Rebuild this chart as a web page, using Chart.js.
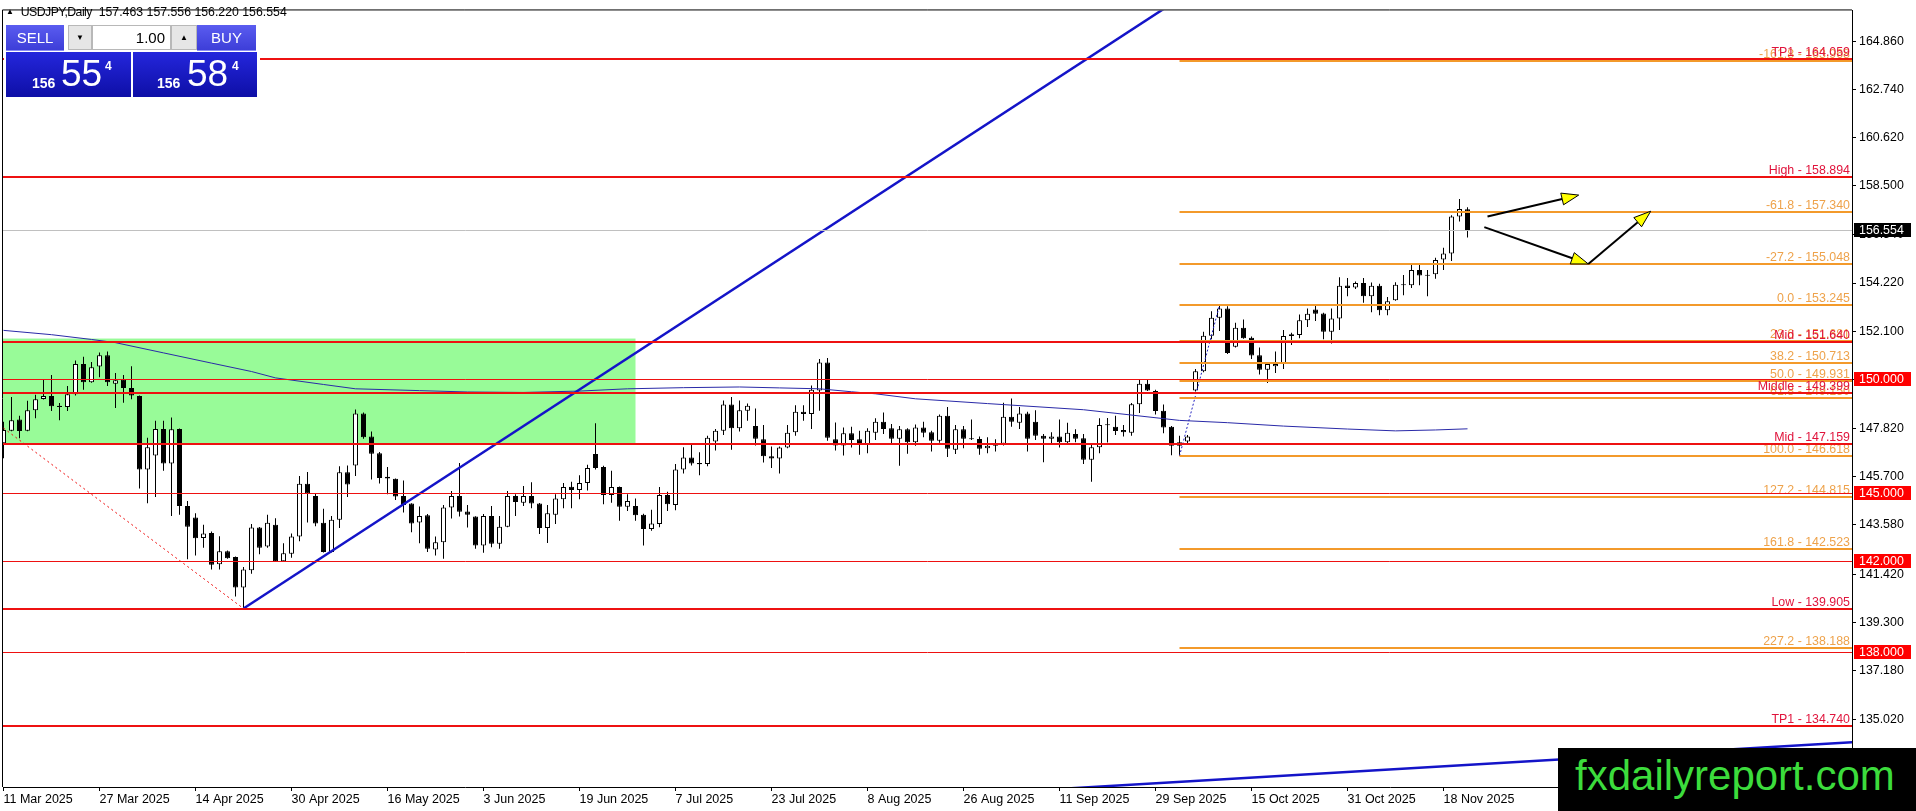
<!DOCTYPE html>
<html>
<head>
<meta charset="utf-8">
<title>USDJPY Daily</title>
<script src="https://cdn.jsdelivr.net/npm/chart.js@4.4.1/dist/chart.umd.min.js"></script>
<style>
  html, body { margin: 0; padding: 0; background: #fff; }
  #wrap { position: relative; width: 1916px; height: 811px; overflow: hidden; font-family: "Liberation Sans", Arial, sans-serif; }
  #chart { position: absolute; left: 0; top: 0; }
  .abs { position: absolute; }
  #hdr { left: 6px; top: 3px; font-size: 12.3px; color: #000; white-space: pre; line-height: 18px; }
  #hdr .tri { font-size: 8px; position: relative; top: -2px; }
  #hdr .sym { letter-spacing: -0.55px; }
  #panelBg { left: 4px; top: 22px; width: 256px; height: 78px; background: #fff; }
  .btn { top: 25px; height: 26px; color: #fff; font-size: 15px; text-align: center; line-height: 26px;
         background: linear-gradient(#5a5cf0, #3d3ed8); border-bottom: 1px solid #8a8cf5; box-sizing: border-box; }
  .spin { top: 25px; height: 25px; background: #e6e6e6; border: 1px solid #b8b8b8; box-sizing: border-box;
          font-size: 8px; text-align: center; line-height: 23px; color: #000; }
  .lot { top: 25px; height: 25px; background: #fff; border: 1px solid #b8b8b8; box-sizing: border-box;
         font-size: 15px; text-align: right; padding-right: 5px; line-height: 23px; color: #000; }
  .quote { top: 52px; height: 45px; background: linear-gradient(#2426dc, #0e0fa6); color: #fff; }
  .quote span { position: absolute; white-space: nowrap; }
  .fig { font-size: 14px; font-weight: bold; top: 24px; line-height: 14px; }
  .pip { font-size: 37px; top: 3px; line-height: 37px; }
  .sup { font-size: 12px; font-weight: bold; top: 8px; line-height: 12px; }
  #wm { left: 1558px; top: 748px; width: 358px; height: 63px; background: #000; color: #3cdc3c;
        font-size: 42px; line-height: 55px; padding-left: 17px; box-sizing: border-box; white-space: nowrap; }
</style>
</head>
<body>
<div id="wrap">
  <canvas id="chart" width="1916" height="811"></canvas>
  <div id="hdr" class="abs"><span class="tri">&#9650;</span>  <span class="sym">USDJPY,Daily</span>  157.463 157.556 156.220 156.554</div>
  <div id="panelBg" class="abs"></div>
  <div class="abs btn" style="left:6px;width:58px;">SELL</div>
  <div class="abs spin" style="left:68px;width:24px;">&#9660;</div>
  <div class="abs lot" style="left:92px;width:79px;">1.00</div>
  <div class="abs spin" style="left:171px;width:26px;">&#9650;</div>
  <div class="abs btn" style="left:197px;width:59px;">BUY</div>
  <div class="abs quote" style="left:6px;width:125px;">
    <span class="fig" style="left:26px;">156</span><span class="pip" style="left:55px;">55</span><span class="sup" style="left:99px;">4</span>
  </div>
  <div class="abs quote" style="left:133px;width:124px;">
    <span class="fig" style="left:24px;">156</span><span class="pip" style="left:54px;">58</span><span class="sup" style="left:99px;">4</span>
  </div>
  <div id="wm" class="abs">fxdailyreport.com</div>
</div>
<script>
// USDJPY daily candles, 11 Mar 2025 .. 21 Nov 2025 (bar index 0..183)
const opens = [
  147.18,147.73,148.22,147.73,148.63,149.12,149.25,148.83,148.77,149.33,
  150.66,149.86,150.55,151.05,149.79,149.97,149.60,149.25,146.02,146.64,
  147.80,146.28,147.80,144.42,143.91,143.01,143.23,141.85,142.43,142.17,
  140.83,141.59,143.47,142.63,143.59,141.99,142.31,143.07,145.39,144.85,
  143.68,142.39,143.81,145.90,146.20,148.48,147.47,146.74,145.70,145.61,
  144.85,144.52,143.69,144.01,142.50,142.82,144.35,144.85,144.17,143.95,
  142.68,143.98,142.75,143.50,144.85,144.56,144.85,144.53,143.45,144.03,
  144.71,145.26,145.12,145.43,146.70,146.13,144.90,145.25,144.38,144.42,
  144.03,143.40,143.62,144.90,144.46,146.02,146.55,146.31,146.26,147.25,
  147.73,148.88,147.83,148.60,147.93,147.35,146.60,146.50,146.99,147.66,
  148.56,148.46,149.50,150.73,147.35,147.08,147.61,147.35,147.13,147.64,
  148.12,147.83,147.37,147.79,147.22,147.87,147.66,147.29,148.38,146.89,
  147.79,147.38,147.36,146.96,147.06,147.15,148.34,148.08,148.48,148.12,
  147.51,147.37,147.47,147.22,147.58,147.40,146.45,147.00,147.97,147.90,
  147.76,147.64,148.89,149.79,149.47,148.60,147.90,147.22,147.25,149.50,
  150.34,151.90,152.69,153.10,151.42,152.26,151.82,151.05,150.41,150.56,
  150.66,151.89,151.94,152.58,153.06,152.88,152.08,152.66,154.11,154.03,
  154.22,153.64,154.10,153.03,153.46,154.12,154.12,154.80,154.58,154.61,
  155.26,155.52,157.15,157.463
];
const highs = [
  148.12,149.21,148.38,149.04,149.31,149.96,150.18,148.95,149.69,150.81,
  150.98,150.75,151.17,151.21,150.26,150.18,150.56,149.27,147.42,148.17,
  148.17,148.31,147.82,144.64,144.10,143.59,143.29,143.08,142.46,142.19,
  141.73,143.62,143.49,144.03,143.88,142.78,143.21,145.73,145.91,144.96,
  144.30,143.98,146.16,146.20,148.66,148.53,147.69,146.79,146.13,145.63,
  145.54,144.54,144.39,144.06,143.07,144.46,145.07,146.31,144.46,143.97,
  144.06,144.42,143.98,145.07,144.93,145.29,145.46,144.55,144.46,144.93,
  145.43,145.48,145.77,146.23,148.05,146.19,145.97,145.27,144.93,144.75,
  144.08,144.25,145.25,145.04,146.26,147.00,147.13,146.78,147.50,147.80,
  149.06,149.21,149.06,148.92,148.70,147.98,147.03,147.03,147.98,148.85,
  148.85,149.72,150.88,150.92,148.09,147.87,147.90,147.73,147.83,148.27,
  148.53,148.02,147.93,147.83,148.00,148.12,147.73,148.44,148.77,147.98,
  147.93,148.22,147.47,147.44,147.35,148.96,149.14,148.77,148.56,148.63,
  147.58,147.66,148.22,148.08,147.79,147.58,147.18,148.27,148.29,148.38,
  147.98,148.95,149.96,149.96,149.53,148.88,147.93,147.51,147.54,150.44,
  152.08,152.98,153.245,153.20,152.48,152.62,151.87,151.39,150.73,151.21,
  152.16,152.04,152.84,153.10,153.24,152.91,153.10,154.48,154.44,154.29,
  154.44,154.25,154.19,153.61,154.26,154.58,155.02,155.02,154.80,155.33,
  155.77,157.20,157.92,157.556
];
const lows = [
  146.52,147.70,147.40,147.70,148.27,149.10,148.59,148.19,148.59,149.28,
  149.53,149.84,150.08,149.69,148.73,148.96,149.11,145.19,144.54,144.81,
  145.97,143.98,144.03,142.07,142.24,142.58,141.62,141.62,142.10,140.43,
  139.905,141.44,142.29,142.58,141.97,141.97,142.14,142.87,143.69,143.53,
  142.37,142.37,143.45,144.81,145.73,147.37,145.58,145.41,144.93,144.68,
  144.13,143.26,142.78,142.39,142.24,142.10,143.87,143.95,143.47,142.53,
  142.36,142.60,142.53,143.48,143.98,144.42,144.32,143.18,142.79,143.62,
  144.32,144.32,144.71,145.10,146.02,144.49,144.56,143.77,144.20,143.77,
  142.68,143.33,143.48,144.20,144.23,145.84,146.20,145.77,146.16,146.86,
  147.54,146.89,147.69,148.16,147.08,146.33,146.09,145.84,146.95,147.50,
  148.16,147.80,148.60,147.29,146.86,146.64,146.99,146.67,146.74,147.32,
  147.58,147.15,146.19,146.71,147.06,147.44,146.81,147.20,146.57,146.70,
  146.96,147.32,146.67,146.74,146.81,147.08,147.90,147.80,146.81,147.32,
  146.34,147.10,146.99,147.10,147.22,146.26,145.48,146.74,147.21,147.54,
  147.47,147.50,148.51,149.47,148.44,147.61,146.65,146.618,147.10,149.45,
  150.30,151.75,152.11,151.10,151.39,151.77,150.88,150.20,149.82,150.27,
  150.44,151.50,151.79,152.29,152.55,151.75,151.56,152.16,153.64,153.96,
  153.35,152.94,152.81,152.81,153.44,153.68,154.00,154.12,153.64,154.41,
  154.80,155.19,156.93,156.220
];
const closes = [
  147.76,148.19,147.71,148.63,149.11,149.25,148.80,148.77,149.33,150.66,
  149.86,150.52,151.05,149.86,149.95,149.60,149.28,146.02,147.00,147.80,
  146.28,147.79,144.42,143.50,143.00,143.21,141.83,142.43,142.12,140.83,
  141.62,143.47,142.58,143.68,141.99,142.34,143.07,145.39,144.96,143.65,
  142.39,143.81,145.90,145.36,148.48,147.44,146.71,145.65,145.63,144.83,
  144.46,143.65,143.98,142.53,142.82,144.35,144.85,144.16,144.03,142.68,
  143.98,142.75,143.50,144.85,144.59,144.85,144.53,143.45,144.10,144.75,
  145.25,145.12,145.43,146.09,146.09,144.90,145.25,144.38,144.64,144.01,
  143.40,143.65,144.90,144.49,146.02,146.55,146.28,146.25,147.42,147.73,
  148.88,147.83,148.63,148.82,147.37,146.60,146.51,146.99,147.64,148.56,
  148.46,149.53,150.73,147.42,147.08,147.61,147.32,147.13,147.73,148.12,
  147.80,147.37,147.79,147.22,147.87,147.64,147.28,148.38,146.93,147.79,
  147.37,147.35,146.93,147.06,147.15,148.34,148.12,148.48,147.37,147.51,
  147.37,147.47,147.22,147.64,147.37,146.45,147.00,147.98,148.00,147.71,
  147.66,148.89,149.79,149.50,148.59,147.87,147.06,147.06,147.47,150.34,
  151.90,152.69,153.10,151.14,152.26,151.79,151.03,150.41,150.66,150.66,
  151.89,151.97,152.58,152.87,152.87,152.08,152.66,154.10,154.00,154.22,
  153.64,154.10,153.03,153.42,154.15,154.16,154.80,154.55,154.54,155.23,
  155.52,157.15,157.48,156.554
];

// moving average: [bar, price]
const maBars   = [0, 6, 11, 14, 20, 26, 31, 34, 40, 44, 52, 58, 65, 72, 78, 85, 92, 97, 102, 106, 109, 114, 123, 135, 147, 153, 160, 168, 174, 179, 183];
const maValues = [152.14, 151.95, 151.74, 151.60, 151.15, 150.70, 150.33, 150.05, 149.76, 149.57, 149.49, 149.43, 149.41, 149.47, 149.57, 149.62, 149.65, 149.61, 149.57, 149.44, 149.35, 149.13, 148.92, 148.65, 148.18, 148.08, 147.93, 147.80, 147.72, 147.76, 147.81];

// date axis
const dateIdx    = [0, 12, 24, 36, 48, 60, 72, 84, 96, 108, 120, 132, 144, 156, 168, 180];
const dateLabels = ['11 Mar 2025', '27 Mar 2025', '14 Apr 2025', '30 Apr 2025', '16 May 2025', '3 Jun 2025',
  '19 Jun 2025', '7 Jul 2025', '23 Jul 2025', '8 Aug 2025', '26 Aug 2025', '11 Sep 2025',
  '29 Sep 2025', '15 Oct 2025', '31 Oct 2025', '18 Nov 2025'];

// price axis
const priceTicks = [164.86, 162.74, 160.62, 158.5, 156.34, 154.22, 152.1, 149.96, 147.82, 145.7, 143.58, 141.42, 139.3, 137.18, 135.02];
const lastPrice = 156.554;

// horizontal levels
const keyLevels    = [164.059, 158.894, 151.640, 149.399, 147.159, 139.905, 134.740];
const keyNames     = ['TP1', 'High', 'Mid', 'Middle', 'Mid', 'Low', 'TP1'];
const roundLevels  = [150.000, 145.000, 142.000, 138.000];
const fibRatios    = [-161.8, -61.8, -27.2, 0.0, 23.6, 38.2, 50.0, 61.8, 100.0, 127.2, 161.8, 227.2];
const fibPrices    = [163.968, 157.340, 155.048, 153.245, 151.681, 150.713, 149.931, 149.150, 146.618, 144.815, 142.523, 138.188];
const fibFromBar   = 147;

// drawn objects (bar, price)
const zoneBars   = [-5, 79];
const zonePrices = [151.78, 147.16];
const supportLine = [{ x: 30, y: 139.905 }, { x: 150, y: 167.42 }];
const lowerLine   = [{ x: 130, y: 131.93 }, { x: 232, y: 134.05 }];
const dropLine    = [{ x: 0, y: 147.84 }, { x: 30, y: 139.905 }];
const fibLine     = [{ x: 147, y: 146.618 }, { x: 152, y: 153.245 }];
const arrowPath = [
  [185.5, 157.15, 196.9, 158.09],
  [185.1, 156.68, 198.1, 155.06],
  [198.1, 155.06, 205.9, 157.38]
];

const FONT = '"Liberation Sans", Arial, sans-serif';
const RED = '#ee1111';
const ORANGE = '#f39a2b';

const wickData = highs.map((h, i) => ({ x: i, y: [lows[i], h] }));
const bodyData = opens.map((o, i) => ({ x: i, y: [o, closes[i]] }));
const bodyFill = opens.map((o, i) => closes[i] >= o ? '#ffffff' : '#000000');
const maData = maBars.map((b, i) => ({ x: b, y: maValues[i] }));

function drawArrow(ctx, x0, y0, x1, y1) {
  const a = Math.atan2(y1 - y0, x1 - x0);
  const len = 17, hw = 6;
  const bx = x1 - len * Math.cos(a), by = y1 - len * Math.sin(a);
  ctx.strokeStyle = '#000';
  ctx.lineWidth = 2;
  ctx.beginPath();
  ctx.moveTo(x0, y0);
  ctx.lineTo(bx, by);
  ctx.stroke();
  ctx.beginPath();
  ctx.moveTo(x1, y1);
  ctx.lineTo(bx - hw * Math.sin(a), by + hw * Math.cos(a));
  ctx.lineTo(bx + hw * Math.sin(a), by - hw * Math.cos(a));
  ctx.closePath();
  ctx.fillStyle = '#ffff00';
  ctx.fill();
  ctx.lineWidth = 1;
  ctx.stroke();
}

const overlay = {
  id: 'overlay',
  beforeDatasetsDraw(chart) {
    const { ctx, chartArea: a, scales: { x, y } } = chart;
    ctx.save();
    ctx.beginPath();
    ctx.rect(a.left, a.top, a.right - a.left, a.bottom - a.top);
    ctx.clip();
    const x0 = x.getPixelForValue(zoneBars[0]), x1 = x.getPixelForValue(zoneBars[1]);
    const y0 = y.getPixelForValue(zonePrices[0]), y1 = y.getPixelForValue(zonePrices[1]);
    ctx.fillStyle = '#98fb98';
    ctx.fillRect(x0, y0, x1 - x0, y1 - y0);
    ctx.restore();
  },
  afterDatasetsDraw(chart) {
    const { ctx, chartArea: a, scales: { x, y } } = chart;
    ctx.save();
    ctx.beginPath();
    ctx.rect(a.left, a.top, a.right - a.left, a.bottom - a.top);
    ctx.clip();

    const hline = (p, x0, color, w) => {
      const py = Math.round(y.getPixelForValue(p)) + (w % 2 ? 0.5 : 0);
      ctx.strokeStyle = color;
      ctx.lineWidth = w;
      ctx.beginPath();
      ctx.moveTo(x0, py);
      ctx.lineTo(a.right, py);
      ctx.stroke();
      return py;
    };

    // current price
    hline(lastPrice, a.left, '#c0c0c0', 1);

    // fibonacci levels
    const fx = x.getPixelForValue(fibFromBar);
    ctx.font = '12.4px ' + FONT;
    ctx.textAlign = 'right';
    ctx.textBaseline = 'alphabetic';
    fibPrices.forEach((p, i) => {
      const py = hline(p, fx, ORANGE, 2);
      ctx.fillStyle = '#eea24a';
      ctx.fillText(fibRatios[i].toFixed(1) + ' - ' + p.toFixed(3), a.right - 2, py - 3);
    });

    // round numbers
    roundLevels.forEach(p => hline(p, a.left, RED, 1));

    // key levels
    keyLevels.forEach((p, i) => {
      const py = hline(p, a.left, RED, 2);
      ctx.fillStyle = '#e0143c';
      ctx.fillText(keyNames[i] + ' - ' + p.toFixed(3), a.right - 2, py - 3);
    });

    // arrows
    arrowPath.forEach(s => drawArrow(ctx,
      x.getPixelForValue(s[0]), y.getPixelForValue(s[1]),
      x.getPixelForValue(s[2]), y.getPixelForValue(s[3])));
    ctx.restore();
  },
  afterDraw(chart) {
    const { ctx, chartArea: a, scales: { y } } = chart;
    ctx.save();
    // top / left frame
    ctx.strokeStyle = '#000';
    ctx.lineWidth = 1;
    ctx.beginPath();
    ctx.moveTo(a.left - 0.5, a.bottom);
    ctx.lineTo(a.left - 0.5, a.top - 0.5);
    ctx.lineTo(a.right, a.top - 0.5);
    ctx.stroke();

    // price tags on the axis
    const tag = (p, bg) => {
      const py = y.getPixelForValue(p);
      ctx.fillStyle = bg;
      ctx.fillRect(a.right + 2, Math.round(py) - 7, 57, 14);
      ctx.fillStyle = '#fff';
      ctx.font = '12.4px ' + FONT;
      ctx.textAlign = 'left';
      ctx.textBaseline = 'middle';
      ctx.fillText(p.toFixed(3), a.right + 7, py + 0.5);
    };
    roundLevels.forEach(p => tag(p, '#ff0000'));
    tag(lastPrice, '#000000');
    ctx.restore();
  }
};

new Chart(document.getElementById('chart'), {
  type: 'bar',
  data: {
    datasets: [
      { type: 'bar', data: wickData, backgroundColor: '#000', borderWidth: 0, barThickness: 1,
        grouped: false, inflateAmount: 0, order: 6, clip: 0 },
      { type: 'bar', data: bodyData, backgroundColor: bodyFill, borderColor: '#000', borderWidth: 1,
        borderSkipped: false, barThickness: 5, grouped: false, inflateAmount: 0, minBarLength: 1, order: 5, clip: 0 },
      { type: 'line', data: maData, borderColor: '#2a2aa8', borderWidth: 1, pointRadius: 0, tension: 0, order: 4, clip: 0 },
      { type: 'line', data: dropLine, borderColor: RED, borderWidth: 1, borderDash: [2, 3], pointRadius: 0, order: 3, clip: 0 },
      { type: 'line', data: fibLine, borderColor: '#2020c0', borderWidth: 1, borderDash: [2, 2], pointRadius: 0, order: 3, clip: 0 },
      { type: 'line', data: supportLine, borderColor: '#1414c8', borderWidth: 2.5, pointRadius: 0, order: 2, clip: 0 },
      { type: 'line', data: lowerLine, borderColor: '#1414c8', borderWidth: 2.5, pointRadius: 0, order: 2, clip: 0 }
    ]
  },
  options: {
    responsive: false,
    animation: false,
    devicePixelRatio: 1,
    events: [],
    layout: { padding: { left: 3, top: 3, right: 0, bottom: 0 } },
    plugins: { legend: { display: false }, tooltip: { enabled: false } },
    scales: {
      x: {
        type: 'linear',
        min: -0.0625,
        max: 231.0625,
        offset: false,
        grid: { display: true, offset: false, drawOnChartArea: false, drawTicks: true, tickLength: 4, color: '#000' },
        border: { display: true, color: '#000', width: 1 },
        ticks: {
          autoSkip: false, maxRotation: 0, minRotation: 0, align: 'start', padding: 1, color: '#000',
          font: { family: FONT, size: 12.5 },
          callback: v => dateLabels[dateIdx.indexOf(v)] || ''
        },
        afterBuildTicks: s => { s.ticks = dateIdx.map(v => ({ value: v })); },
        afterFit: s => { s.height = 24; }
      },
      y: {
        type: 'linear',
        position: 'right',
        min: 132.057,
        max: 166.2105,
        grid: { display: true, drawOnChartArea: false, drawTicks: true, tickLength: 4, color: '#000' },
        border: { display: true, color: '#000', width: 1 },
        ticks: {
          autoSkip: false, padding: 3, color: '#000',
          font: { family: FONT, size: 12.4 },
          callback: v => v.toFixed(3)
        },
        afterBuildTicks: s => { s.ticks = priceTicks.map(v => ({ value: v })); },
        afterFit: s => { s.width = 64; }
      }
    }
  },
  plugins: [overlay]
});
</script>
</body>
</html>
